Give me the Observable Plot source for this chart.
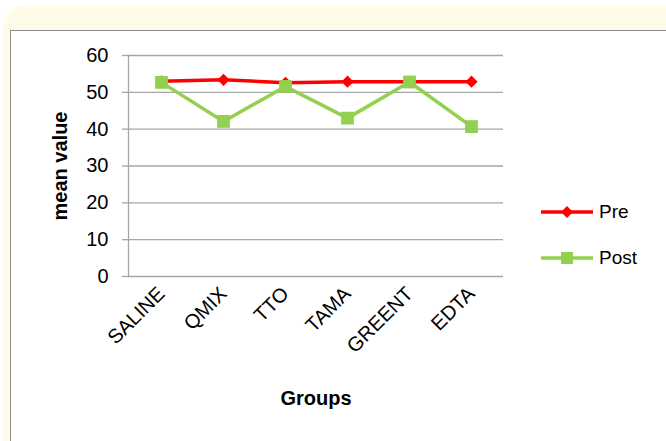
<!DOCTYPE html>
<html>
<head>
<meta charset="utf-8">
<script src="https://cdn.jsdelivr.net/npm/d3@7"></script>
<script src="https://cdn.jsdelivr.net/npm/@observablehq/plot@0.6"></script>
<style>
  html, body { margin:0; padding:0; background:#ffffff; width:666px; height:441px; overflow:hidden; }
  #cream { position:absolute; left:3px; top:5px; width:720px; height:480px; background:#fffbe9; border-radius:24px; }
  #box { position:absolute; left:10px; top:30px; width:700px; height:460px; background:#ffffff; border:1px solid #8c8c8c; }
  #chart { position:absolute; left:0; top:0; }
  #chart svg { overflow:visible; }
  g[aria-label="y-axis label"] text, g[aria-label="x-axis label"] text { font-weight:bold; }
  #legend { position:absolute; left:541px; top:198px; font-family:"Liberation Sans", Arial, sans-serif; font-size:19px; color:#000; }
  .row { display:flex; align-items:center; height:28px; }
  .row svg { margin-right:6px; }
  .row + .row { margin-top:18px; }
</style>
</head>
<body>
<div id="cream"></div>
<div id="box"></div>
<div id="chart"></div>
<div id="legend"></div>
<script>
const groups = ["SALINE", "QMIX", "TTO", "TAMA", "GREENT", "EDTA"];
const preValues = [53.0, 53.4, 52.6, 52.9, 52.9, 52.9];
const postValues = [52.7, 42.1, 51.6, 43.0, 52.8, 40.7];
const yTicks = [0, 10, 20, 30, 40, 50, 60];
const seriesNames = ["Pre", "Post"];
const seriesColors = ["#ff0000", "#92d050"];

const pre = groups.map((g, i) => ({group: g, value: preValues[i]}));
const post = groups.map((g, i) => ({group: g, value: postValues[i]}));

const chart = Plot.plot({
  width: 666,
  height: 441,
  marginLeft: 128,
  marginRight: 163,
  marginTop: 55,
  marginBottom: 165,
  style: {fontFamily: "'Liberation Sans', Arial, sans-serif", fontSize: "18px", background: "transparent", color: "#000"},
  x: {type: "point", domain: groups, padding: 0.5},
  y: {domain: [0, 60]},
  marks: [
    Plot.gridY(yTicks, {stroke: "#a6a6a6", strokeOpacity: 1, strokeWidth: 1.3}),
    Plot.axisY(yTicks, {tickSize: 6, tickPadding: 14, stroke: "#a6a6a6", strokeWidth: 1.3, fontSize: 20,
      label: "mean value", labelAnchor: "center", labelArrow: "none", labelOffset: 76}),
    Plot.frame({anchor: "left", stroke: "#a6a6a6", strokeWidth: 1.3}),
    Plot.axisX({tickSize: 0, tickRotate: -45, tickPadding: 14, fontSize: 20,
      label: "Groups", labelAnchor: "center", labelArrow: "none", labelOffset: 128}),
    Plot.line(pre, {x: "group", y: "value", stroke: seriesColors[0], strokeWidth: 3.5}),
    Plot.dot(pre, {x: "group", y: "value", symbol: "diamond2", r: 5.5, fill: seriesColors[0]}),
    Plot.line(post, {x: "group", y: "value", stroke: seriesColors[1], strokeWidth: 3.5}),
    Plot.dot(post, {x: "group", y: "value", symbol: "square", r: 7.2, fill: seriesColors[1]})
  ]
});
document.getElementById("chart").appendChild(chart);

const legend = document.getElementById("legend");
seriesNames.forEach((name, i) => {
  const row = document.createElement("div");
  row.className = "row";
  const marker = i === 0
    ? `<polygon points="26,7 32,13 26,19 20,13" fill="${seriesColors[i]}"/>`
    : `<rect x="20" y="7" width="12" height="12" fill="${seriesColors[i]}"/>`;
  row.innerHTML = `<svg width="52" height="26"><line x1="0" x2="52" y1="13" y2="13" stroke="${seriesColors[i]}" stroke-width="3.5"/>${marker}</svg><span>${name}</span>`;
  legend.appendChild(row);
});
</script>
</body>
</html>
